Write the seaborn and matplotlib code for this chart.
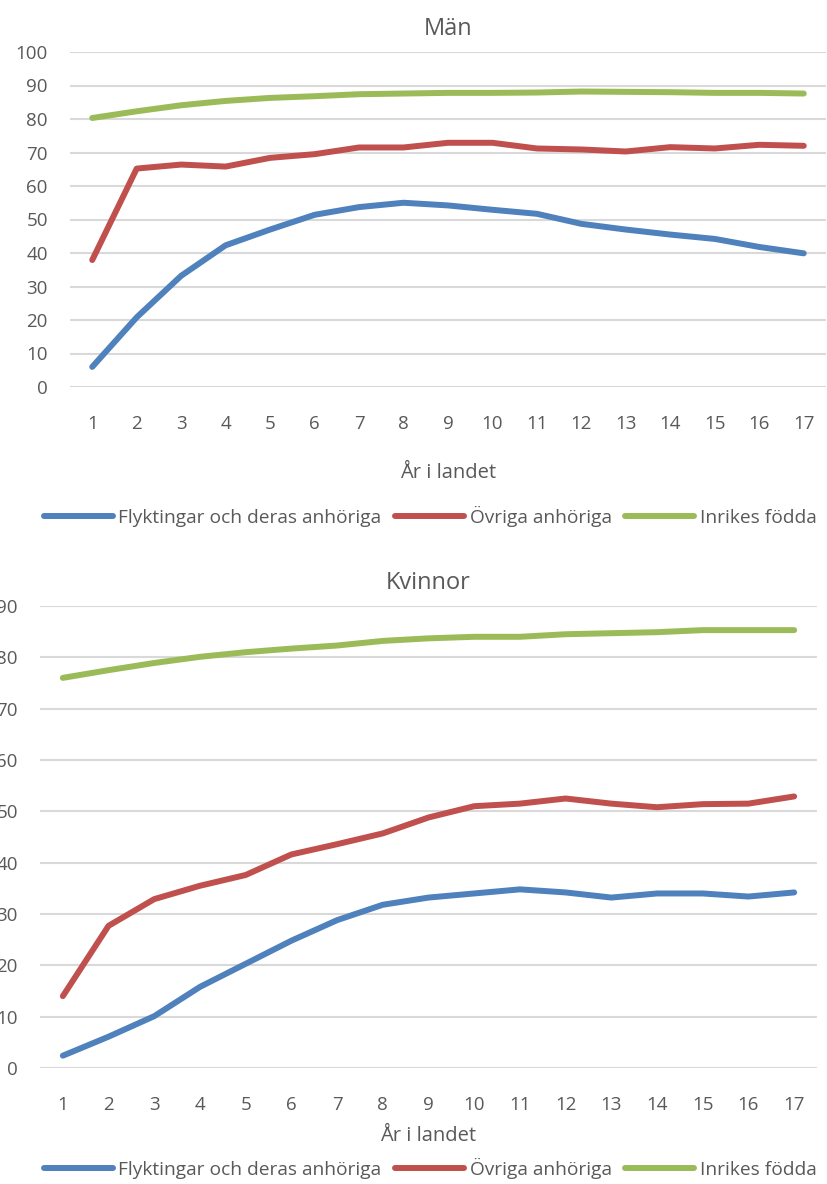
import numpy as np
import pandas as pd
import matplotlib
matplotlib.use("Agg")
import matplotlib.pyplot as plt
import seaborn as sns
from matplotlib import font_manager

years = list(range(1, 18))
series_names = ["Flyktingar och deras anhöriga", "Övriga anhöriga", "Inrikes födda"]

man_flykt = [6.0, 20.8, 33.2, 42.3, 47.0, 51.4, 53.7, 55.0, 54.2, 52.9, 51.7, 48.7, 47.0, 45.5, 44.2, 41.8, 39.9]
man_ovriga = [37.9, 65.2, 66.4, 65.8, 68.4, 69.5, 71.5, 71.5, 72.9, 72.9, 71.2, 70.9, 70.3, 71.6, 71.2, 72.3, 72.0]
man_inrikes = [80.3, 82.3, 84.1, 85.4, 86.3, 86.8, 87.4, 87.6, 87.8, 87.8, 87.9, 88.2, 88.1, 88.0, 87.8, 87.8, 87.6]

kv_flykt = [2.4, 6.1, 10.1, 15.8, 20.3, 24.8, 28.8, 31.8, 33.2, 34.0, 34.8, 34.2, 33.2, 34.0, 34.0, 33.4, 34.2]
kv_ovriga = [14.0, 27.7, 32.9, 35.5, 37.6, 41.6, 43.6, 45.7, 48.8, 51.0, 51.5, 52.5, 51.5, 50.8, 51.4, 51.5, 52.9]
kv_inrikes = [76.0, 77.5, 78.9, 80.1, 81.0, 81.7, 82.3, 83.2, 83.7, 84.0, 84.0, 84.5, 84.7, 84.9, 85.3, 85.3, 85.3]

titles = ["Män", "Kvinnor"]
xlabel = "År i landet"
colors = ["#4F81BD", "#C0504D", "#9BBB59"]

sns.set_theme(style="white")
installed = {f.name for f in font_manager.fontManager.ttflist}
fam = [f for f in ["Liberation Sans Narrow", "Open Sans", "DejaVu Sans"] if f in installed]
plt.rcParams["font.family"] = fam
text_col = "#595959"

def long_df(a, b, c):
    rows = []
    for name, vals in zip(series_names, [a, b, c]):
        for x, v in zip(years, vals):
            rows.append({"År": x, "Värde": v, "Grupp": name})
    return pd.DataFrame(rows)

fig = plt.figure(figsize=(8.27, 11.84), dpi=100)
ax1 = fig.add_axes([70/827, 1-387/1184, (826-70)/827, (387-52)/1184])
ax2 = fig.add_axes([40/827, 1-1068/1184, (817-40)/827, (1068-606)/1184])

configs = [
    (ax1, long_df(man_flykt, man_ovriga, man_inrikes), (0, 100), titles[0], 0.564, 22),
    (ax2, long_df(kv_flykt, kv_ovriga, kv_inrikes), (0, 90), titles[1], 0.0135, 9),
]

for ax, df, ylim, title, leg_y, lpad in configs:
    sns.lineplot(data=df, x="År", y="Värde", hue="Grupp", palette=colors,
                 linewidth=4.3, ax=ax, legend=False, solid_capstyle="round")
    ax.set_xlim(0.5, 17.5)
    ax.set_ylim(*ylim)
    ax.set_yticks(np.arange(ylim[0], ylim[1] + 1, 10))
    ax.set_xticks(years)
    ax.set_xticklabels([str(y) for y in years])
    ax.grid(axis="y", color="#D9D9D9", linewidth=1.5)
    ax.set_axisbelow(True)
    for s in ax.spines.values():
        s.set_visible(False)
    ax.tick_params(axis="x", length=0, labelsize=13.5, colors=text_col, pad=20)
    ax.tick_params(axis="y", length=0, labelsize=13.5, colors=text_col, pad=16)
    ax.set_ylabel("")
    ax.set_xlabel(xlabel, fontsize=14.5, color=text_col, labelpad=lpad)
    ax.set_title(title, fontsize=17, color=text_col, pad=12)
    handles = [plt.Line2D([], [], color=c, linewidth=4.3, solid_capstyle="round") for c in colors]
    fig.legend(handles, series_names, loc="center", bbox_to_anchor=(0.52, leg_y),
               ncol=3, frameon=False, fontsize=13.8, handlelength=3.6,
               handletextpad=0.3, columnspacing=0.7, labelcolor=text_col)

fig.savefig("out.png", dpi=100)
